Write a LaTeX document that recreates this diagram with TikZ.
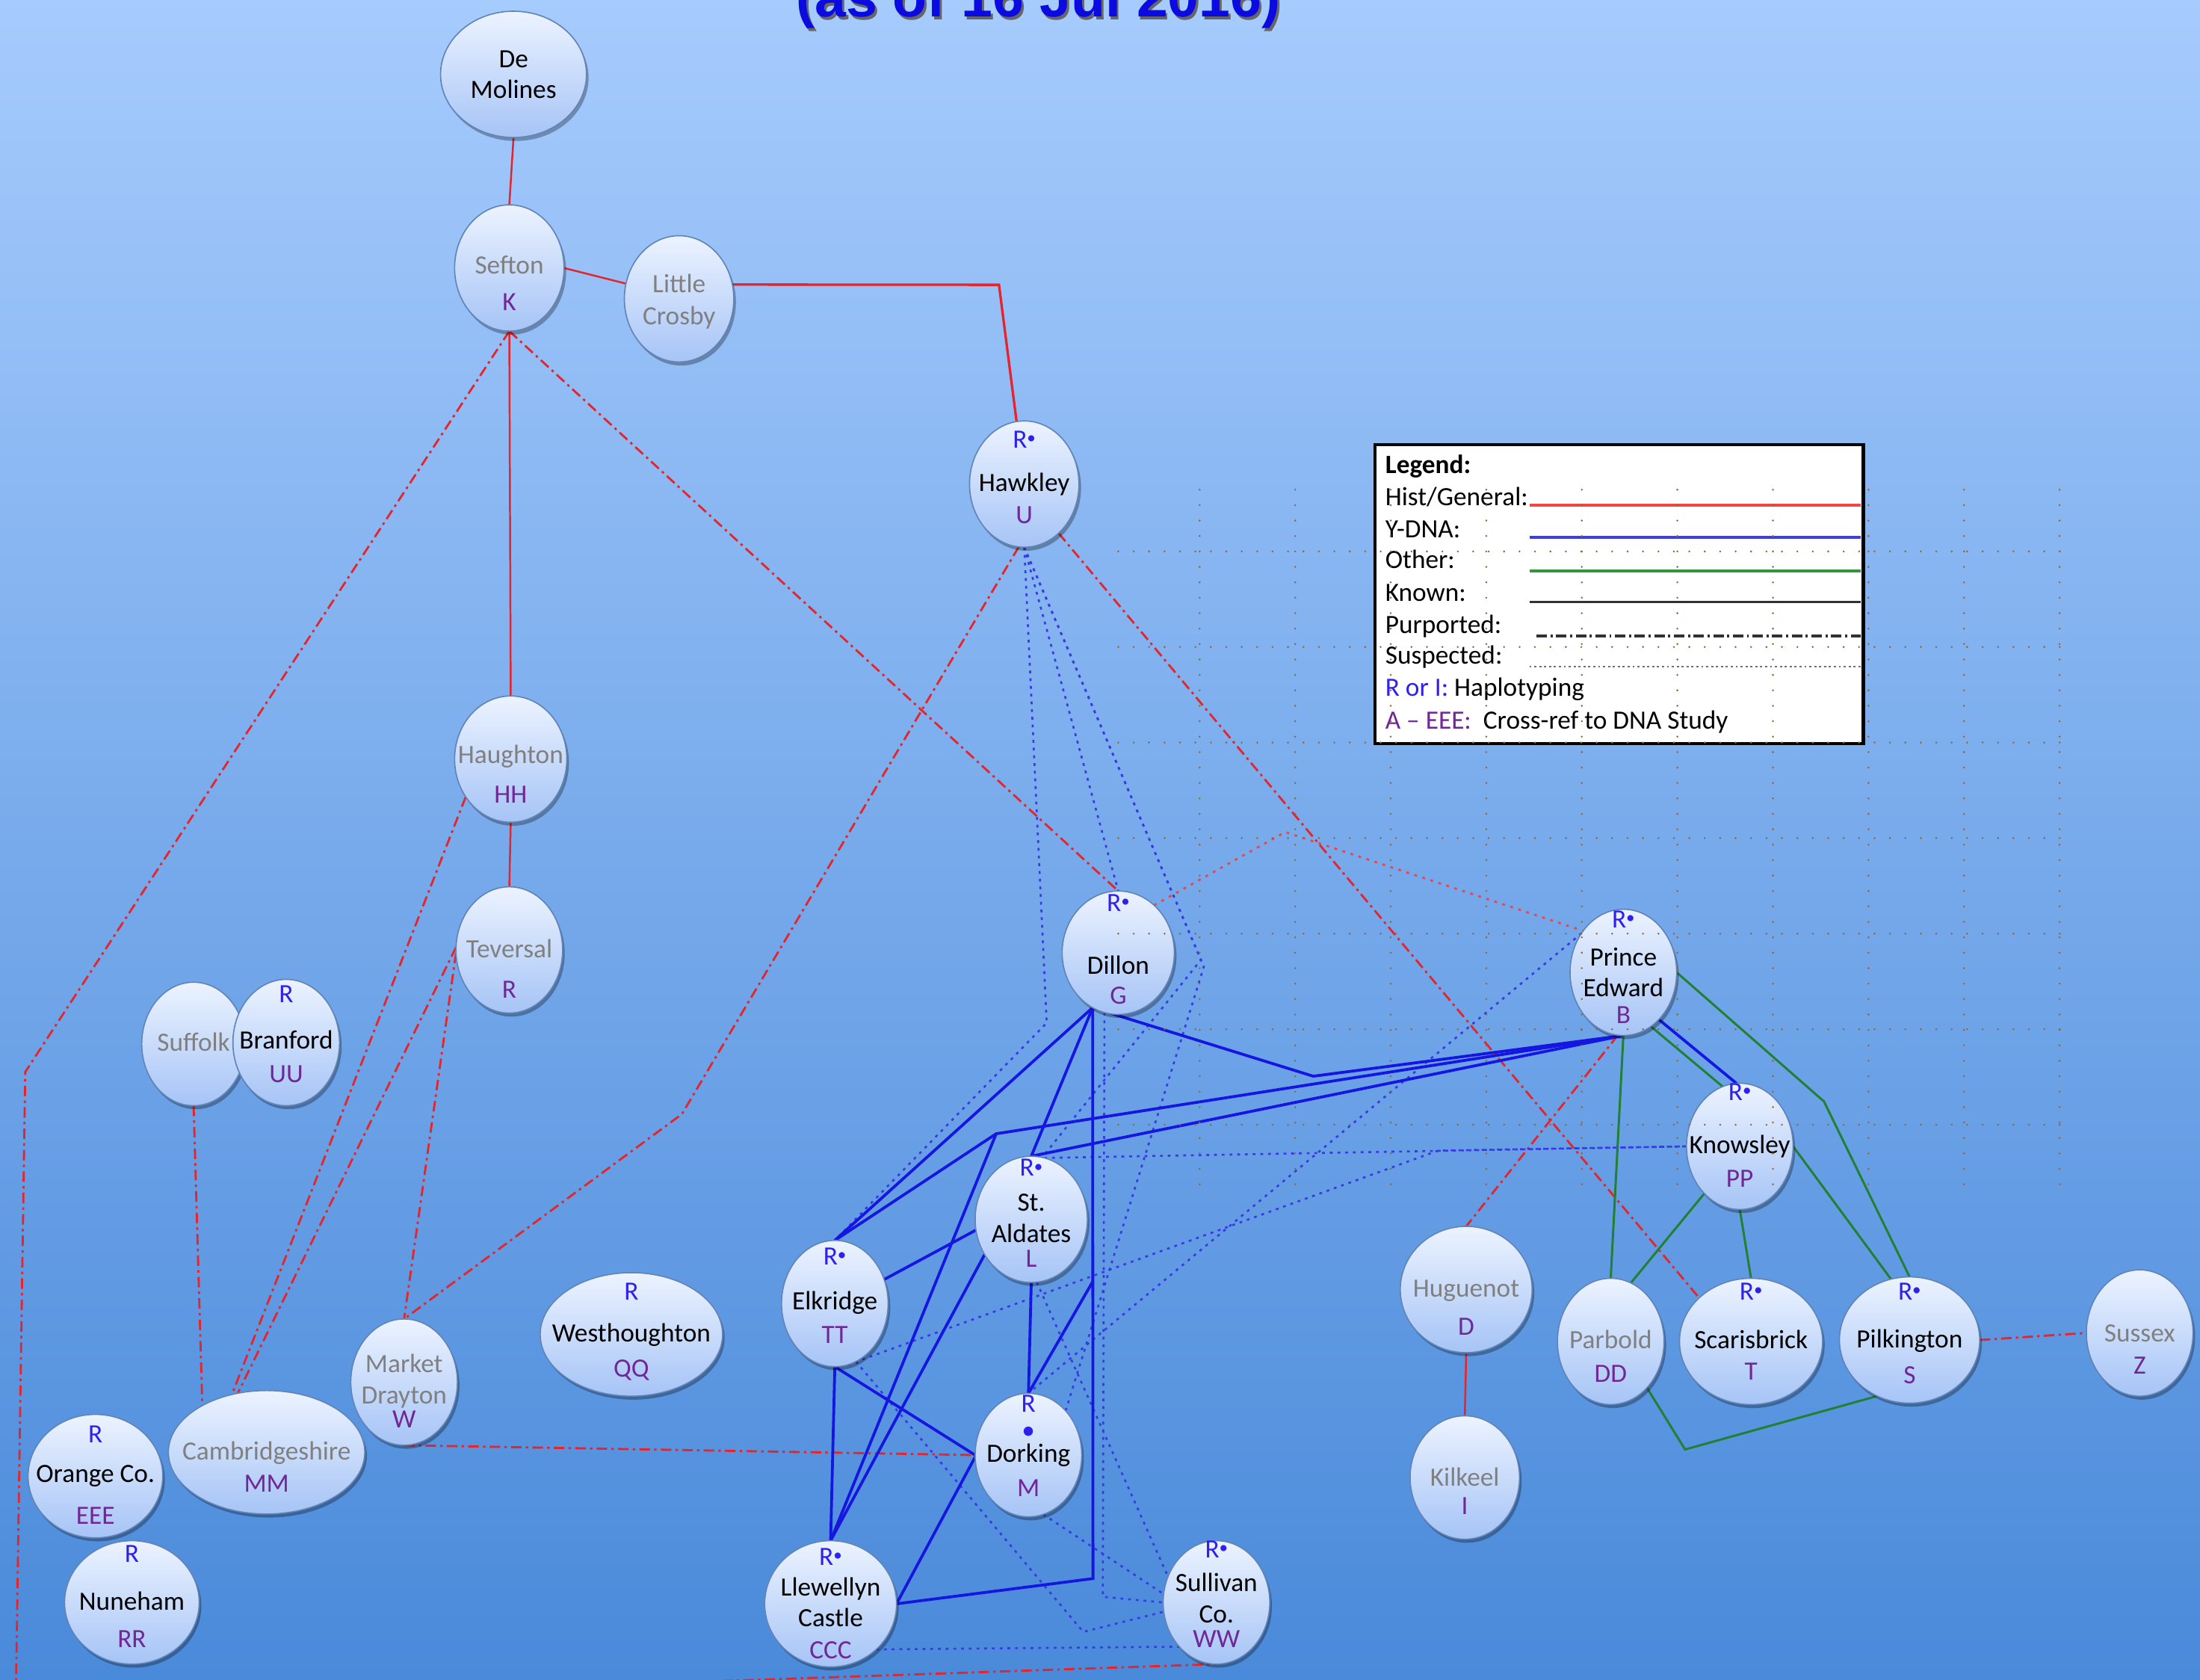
\documentclass[tikz,border=0pt]{standalone}
\usepackage{fontspec}
\setmainfont{Carlito}
\newfontfamily\titlefont{Liberation Sans}
\usetikzlibrary{shapes.geometric,shadows}
\pgfdeclarelayer{bgl}
\pgfdeclarelayer{edgel}
\pgfdeclarelayer{topl}
\pgfsetlayers{bgl,edgel,main,topl}

\definecolor{bgtop}{RGB}{166,203,253}
\definecolor{bgbot}{RGB}{74,138,218}
\definecolor{ndtop}{RGB}{236,243,255}
\definecolor{ndbot}{RGB}{166,196,246}
\definecolor{ndline}{RGB}{98,132,182}
\definecolor{hred}{RGB}{228,38,44}
\definecolor{yblue}{RGB}{22,22,225}
\definecolor{ogreen}{RGB}{34,128,52}
\definecolor{hapblue}{RGB}{48,32,235}
\definecolor{codepurple}{RGB}{112,40,150}
\definecolor{namegray}{RGB}{128,128,128}
\definecolor{griddot}{RGB}{140,105,55}
\definecolor{titleblue}{RGB}{10,10,225}
\definecolor{lgred}{RGB}{240,70,70}
\definecolor{lgblue}{RGB}{60,60,240}
\definecolor{lggreen}{RGB}{50,150,60}
\definecolor{lgblack}{RGB}{50,50,50}

\newcommand\nfont{\fontsize{10.7}{12.8}\selectfont}
\newcommand\hapl[1]{\textcolor{hapblue}{#1}}
\newcommand\codel[1]{\textcolor{codepurple}{#1}}
\newcommand\grayl[1]{\textcolor{namegray}{#1}}
\newcommand\rdot{\hapl{R\raisebox{0.35ex}{\scriptsize\textbullet}}}

\tikzset{
  bubble/.style={ellipse, draw=ndline, line width=0.5pt, top color=ndtop, bottom color=ndbot,
    inner sep=0pt, outer sep=0pt,
    drop shadow={shadow xshift=0.3mm, shadow yshift=-0.5mm, opacity=0.3, fill=black}},
  ntext/.style={inner sep=0pt, font=\nfont, text height=1.5ex, text depth=0pt, anchor=center},
  lgtext/.style={inner sep=0pt, font=\nfont, text height=1.5ex, text depth=0pt, anchor=west},
  hist/.style={draw=hred, line width=0.75pt},
  ydna/.style={draw=yblue, line width=1.15pt},
  other/.style={draw=ogreen, line width=0.9pt},
  purp/.style={draw=hred, line width=0.85pt, dash pattern=on 1.5mm off 0.6mm on 0.35mm off 0.6mm},
  suspR/.style={draw=hred!85, line width=0.85pt, dash pattern=on 0.4mm off 0.8mm},
  suspB/.style={draw=yblue!85, line width=0.8pt, dash pattern=on 0.4mm off 0.7mm},
  griddots/.style={draw=griddot, line width=0.3mm, line cap=round, dash pattern=on 0pt off 2.2mm},
  legendbox/.style={draw=black, line width=1.4pt, fill=white, inner sep=0pt},
}

\newcommand\mkbub[6]{%
  \node[bubble, minimum width={#4*0.4mm}, minimum height={#5*0.4mm}] (#1) at (#2,#3) {};
  \foreach \dy/\tx [count=\i] in {#6}{\node[ntext] (#1-\i) at (#2,{#3+\dy}) {\tx};}%
}

\begin{document}
\begin{tikzpicture}[x=0.2mm, y=-0.2mm]
\useasboundingbox (0,0) rectangle (1568,1197);
\begin{pgfonlayer}{bgl}
  \fill[top color=bgtop, bottom color=bgbot] (0,0) rectangle (1568,1197);
\end{pgfonlayer}

% title (cut off at the top)
\node[anchor=base, font=\titlefont\bfseries\fontsize{22.8}{26}\selectfont, text=black!60] (title-sh) at (741.5,14) {(as of 16 Jul 2016)};
\node[anchor=base, font=\titlefont\bfseries\fontsize{22.8}{26}\selectfont, text=titleblue] (title) at (740,12) {(as of 16 Jul 2016)};

% nodes
\mkbub{dem}{366}{53}{52}{45}{-11/De, 11/Molines}
\mkbub{sef}{363}{191}{39}{45}{-2/\grayl{Sefton}, 24/\codel{K}}
\mkbub{lcr}{484}{213}{39}{45}{-11/\grayl{Little}, 12/\grayl{Crosby}}
\mkbub{haw}{730}{345}{39}{45}{-32/\rdot, -1/Hawkley, 22/\codel{U}}
\mkbub{hau}{364}{541}{40}{45}{-3/\grayl{Haughton}, 25/\codel{HH}}
\mkbub{tev}{363}{677}{38}{45}{-1/\grayl{Teversal}, 28/\codel{R}}
\mkbub{suf}{138}{744}{37}{44}{-1/\grayl{Suffolk}}
\mkbub{bra}{204}{743}{38}{45}{-35/\hapl{R}, -2/Branford, 22/\codel{UU}}
\mkbub{dil}{797}{679}{40}{44}{-36/\rdot, 9/Dillon, 30/\codel{G}}
\mkbub{pe}{1157}{693}{38}{45}{-38/\rdot, -11/Prince, 11/Edward, 30/\codel{B}}
\mkbub{kno}{1240}{817}{38}{45}{-39/\rdot, -1/Knowsley, 23/\codel{PP}}
\mkbub{sta}{735}{869}{40}{45}{-37/\rdot, -12/St., 10/Aldates, 28/\codel{L}}
\mkbub{elk}{595}{929}{38}{45}{-34/\rdot, -2/Elkridge, 22/\codel{TT}}
\mkbub{wes}{450}{951}{65}{44}{-31/\hapl{R}, -1/Westhoughton, 24/\codel{QQ}}
\mkbub{mkd}{288}{985}{38}{45}{-13/\grayl{Market}, 9/\grayl{Drayton}, 26/\codel{W}}
\mkbub{cam}{190}{1035}{70}{44}{-1/\grayl{Cambridgeshire}, 22/\codel{MM}}
\mkbub{ora}{68}{1052}{48}{44}{-30/\hapl{R}, -2/Orange Co., 28/\codel{EEE}}
\mkbub{nun}{94}{1142}{48}{44}{-35/\hapl{R}, -1/Nuneham, 26/\codel{RR}}
\mkbub{dor}{733}{1037}{38}{44}{-37/\hapl{R}, -18/\hapl{\textbullet}, -1/Dorking, 23/\codel{M}}
\mkbub{lle}{592}{1143}{47}{45}{-34/\rdot, -12/Llewellyn, 10/Castle, 33/\codel{CCC}}
\mkbub{sul}{867}{1142}{38}{44}{-38/\rdot, -14/Sullivan, 8/Co., 26/\codel{WW}}
\mkbub{hug}{1045}{919}{47}{45}{-1/\grayl{Huguenot}, 26/\codel{D}}
\mkbub{kil}{1044}{1053}{39}{44}{0/\grayl{Kilkeel}, 20/\codel{I}}
\mkbub{par}{1148}{956}{38}{45}{-1/\grayl{Parbold}, 23/\codel{DD}}
\mkbub{sca}{1248}{956}{51}{45}{-36/\rdot, -1/Scarisbrick, 21/\codel{T}}
\mkbub{pil}{1361}{955}{50}{45}{-35/\rdot, -1/Pilkington, 25/\codel{S}}
\mkbub{sus}{1525}{950}{38}{45}{0/\grayl{Sussex}, 23/\codel{Z}}

% bend points
\coordinate (b-lc) at (712,203);
\coordinate (b-sw1) at (18,764);
\coordinate (b-sw2) at (11,1230);
\coordinate (b-sw3) at (470,1199.5);
\coordinate (b-md) at (486,794);
\coordinate (b-dp) at (936,767);
\coordinate (b-pe) at (710,808);
\coordinate (b-dv) at (779,1125);
\coordinate (b-dm) at (779,913);
\coordinate (b-rd) at (916,593);
\coordinate (b-pk) at (1300,785);
\coordinate (b-pp) at (1201,1033);
\coordinate (b-h1) at (746,729);
\coordinate (b-h2) at (856,684);
\coordinate (b-h3) at (858,689);
\coordinate (b-ds) at (786,1138);
\coordinate (b-ek) at (1025,820);
\coordinate (b-es) at (772,1163);

\begin{pgfonlayer}{edgel}
  % Hist/General
  \draw[hist] (dem.south) -- (sef.north);
  \draw[hist] (sef.east) -- (lcr.164);
  \draw[hist, line width=1pt] (lcr.15) -- (b-lc) -- (haw.97);
  \draw[hist] (sef.south) -- (hau.north);
  \draw[hist] (hau.south) -- (tev.north);
  \draw[hist] (hug.south) -- (kil.north);
  % Purported
  \draw[purp] (sef.south) -- (b-sw1) -- (b-sw2) -- (b-sw3) -- (sul.south);
  \draw[purp] (sef.south) -- (dil.north);
  \draw[purp] (hau.220) -- (cam.121);
  \draw[purp] (tev.177) -- (cam.116);
  \draw[purp] (tev.183) -- (mkd.north);
  \draw[purp] (haw.265) -- (b-md) -- (mkd.north);
  \draw[purp] (suf.south) -- (cam.144);
  \draw[purp] (mkd.south) -- (dor.west);
  \draw[purp] (haw.-55) -- (sca.140);
  \draw[purp] (pe.265) -- (hug.north);
  \draw[purp] (pil.east) -- (sus.west);
  % Suspected (red)
  \draw[suspR] (dil.53) -- (b-rd) -- (pe.134);
  % Y-DNA suspected
  \draw[suspB] (haw.south) -- (b-h1) -- (elk.north);
  \draw[suspB] (haw.south) -- (dil.north);
  \draw[suspB] (haw.south) -- (b-h2) -- (sta.80);
  \draw[suspB] (haw.south) -- (b-h3) -- (dor.50);
  \draw[suspB] (dil.257) -- (b-ds) -- (sul.west);
  \draw[suspB] (elk.-78) -- (b-ek) -- (kno.west);
  \draw[suspB] (sta.78) -- (kno.west);
  \draw[suspB] (pe.137) -- (dor.north);
  \draw[suspB] (elk.-70) -- (b-es) -- (sul.190);
  \draw[suspB] (sta.-85) -- (sul.152);
  \draw[suspB] (dor.-76) -- (sul.171);
  \draw[suspB] (lle.-45) -- (sul.230);
  % Y-DNA
  \draw[ydna] (dil.245) -- (elk.north);
  \draw[ydna] (dil.245) -- (sta.north);
  \draw[ydna] (dil.245) -- (b-dv) -- (lle.east);
  \draw[ydna] (dil.245) -- (b-dp) -- (pe.south);
  \draw[ydna] (pe.south) -- (b-pe) -- (elk.north);
  \draw[ydna] (b-pe) -- (lle.north);
  \draw[ydna] (pe.south) -- (sta.north);
  \draw[ydna] (pe.-53) -- (kno.93);
  \draw[ydna] (elk.26) -- (sta.191);
  \draw[ydna] (elk.south) -- (lle.north);
  \draw[ydna] (elk.south) -- (dor.west);
  \draw[ydna] (sta.217) -- (lle.north);
  \draw[ydna] (sta.south) -- (dor.north);
  \draw[ydna] (dor.north) -- (b-dm);
  \draw[ydna] (dor.182) -- (lle.east);
  % Other
  \draw[other] (pe.south) -- (par.north);
  \draw[other] (pe.-63) -- (kno.106);
  \draw[other] (pe.east) -- (b-pk) -- (pil.north);
  \draw[other] (kno.east) -- (pil.107);
  \draw[other] (kno.233) -- (par.71);
  \draw[other] (kno.south) -- (sca.north);
  \draw[other] (par.-52) -- (b-pp) -- (pil.240);
\end{pgfonlayer}

% legend
\node[legendbox, minimum width={348*0.2mm}, minimum height={213*0.2mm}] (legend) at (1154,423.5) {};
\node[lgtext] (lg-0) at (987,331) {\textbf{Legend:}};
\node[lgtext] (lg-1) at (987,354) {Hist/General:};
\node[lgtext] (lg-2) at (987,377) {Y-DNA:};
\node[lgtext] (lg-3) at (987,399) {Other:};
\node[lgtext] (lg-4) at (987,422) {Known:};
\node[lgtext] (lg-5) at (987,445) {Purported:};
\node[lgtext] (lg-6) at (987,467) {Suspected:};
\node[lgtext] (lg-7) at (987,490) {\hapl{R or I:} Haplotyping};
\node[lgtext] (lg-8) at (987,513) {\codel{A – EEE:}\ \ Cross-ref to DNA Study};
\draw[draw=lgred, line width=1.1pt] (1090,360) -- (1326,360);
\draw[draw=lgblue, line width=1.1pt] (1090,383) -- (1326,383);
\draw[draw=lggreen, line width=1.1pt] (1090,407) -- (1326,407);
\draw[draw=lgblack, line width=1.1pt] (1090,429) -- (1326,429);
\draw[draw=lgblack, line width=1.2pt, dash pattern=on 1.5mm off 0.5mm on 0.3mm off 0.5mm] (1095,453) -- (1326,453);
\draw[draw=lgblack!70, line width=0.8pt, dash pattern=on 0.3mm off 0.4mm] (1090,475) -- (1326,475);

% dotted grid (drawn on top)
\begin{pgfonlayer}{topl}
  \foreach \gx in {0,...,9}{\draw[griddots] ({855+68.1*\gx},349) -- ({855+68.1*\gx},850);}
  \foreach \gy in {0,...,6}{\draw[griddots] (797,{393+68.1*\gy}) -- (1470,{393+68.1*\gy});}
\end{pgfonlayer}
\end{tikzpicture}
\end{document}
